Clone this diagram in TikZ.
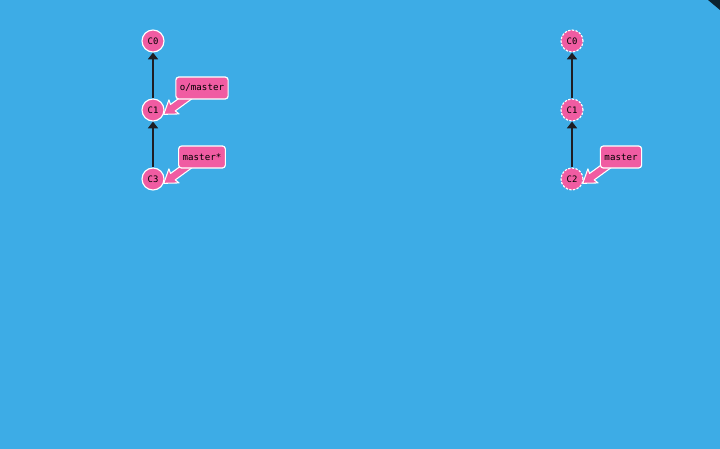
\documentclass[tikz,border=0pt]{standalone}
\usepackage{fontspec}
\setmonofont{DejaVu Sans Mono}
\usetikzlibrary{arrows.meta}
\definecolor{bgblue}{RGB}{61,172,230}
\definecolor{cpink}{RGB}{240,92,162}
\definecolor{edgedark}{RGB}{30,30,36}
\tikzset{
  commit/.style={circle,fill=cpink,draw=white,line width=1pt,minimum size=0.66cm,inner sep=0pt,text=black,font=\ttfamily\fontsize{7.6}{8}\selectfont},
  ghost/.style={commit,dash pattern=on 2pt off 1.2pt},
  branch/.style={rectangle,rounded corners=2.5pt,fill=cpink,draw=white,line width=1pt,inner xsep=3.5pt,inner ysep=0pt,minimum height=0.66cm,text=black,font=\ttfamily\fontsize{7.8}{9}\selectfont},
  parent/.style={edgedark,line width=1.1pt,-{Triangle[width=0.3cm,length=0.2cm]}},
  pointer/.pic={
    \filldraw[fill=cpink,draw=white,line width=0.9pt,line join=round]
      (0,0) -- (0.38cm,0.26cm) -- (0.34cm,0.12cm) -- (1cm,0.12cm)
      -- (1cm,-0.12cm) -- (0.34cm,-0.12cm) -- (0.38cm,-0.26cm) -- cycle;
  }
}
\begin{document}
\begin{tikzpicture}[x=0.03cm,y=-0.03cm]
\fill[bgblue] (0,0) rectangle (720,449);
\fill[bgblue!20!black] (708,0) -- (720,0) -- (720,10) -- cycle;
% local repo
\node[commit] (lc0) at (153,41) {C0};
\node[commit] (lc1) at (153,110) {C1};
\node[commit] (lc3) at (153,179) {C3};
\draw[parent] (lc1) -- (lc0);
\draw[parent] (lc3) -- (lc1);
\pic[rotate=36] at (lc1.-22) {pointer};
\pic[rotate=36] at (lc3.-22) {pointer};
\node[branch] (omaster) at (202,88) {o/master};
\node[branch] (lmaster) at (202,157) {master*};
% remote repo
\node[ghost] (rc0) at (572,41) {C0};
\node[ghost] (rc1) at (572,110) {C1};
\node[ghost] (rc2) at (572,179) {C2};
\draw[parent] (rc1) -- (rc0);
\draw[parent] (rc2) -- (rc1);
\pic[rotate=36] at (rc2.-22) {pointer};
\node[branch] (rmaster) at (621,157) {master};
\end{tikzpicture}
\end{document}
